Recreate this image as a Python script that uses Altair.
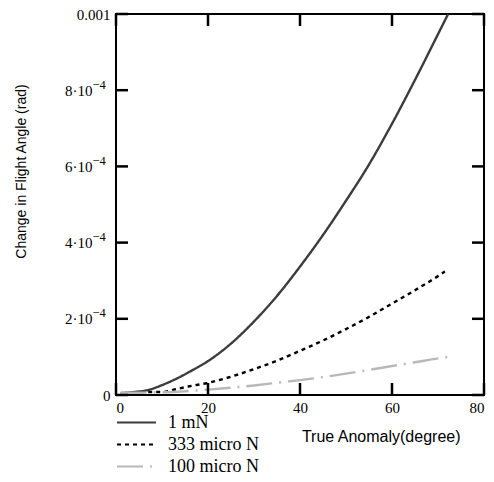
import altair as alt
import pandas as pd

series_names = ["1 mN", "333 micro N", "100 micro N"]

deg_1mn = [1, 4, 7, 10, 13, 16, 20, 25, 30, 35, 40, 45, 50, 55, 60, 65, 70, 72.2]
val_1mn = [5e-6, 8e-6, 1.3e-5, 2.6e-5, 4.2e-5, 6.1e-5, 8.9e-5, 1.35e-4, 1.93e-4,
           2.6e-4, 3.37e-4, 4.2e-4, 5.1e-4, 6.05e-4, 7.12e-4, 8.27e-4, 9.47e-4, 1.0e-3]

deg_333 = [7, 10, 13, 16, 20, 25, 30, 35, 40, 45, 50, 55, 60, 65, 70, 71.5]
val_333 = [8e-6, 8e-6, 1.5e-5, 2.3e-5, 3.2e-5, 4.8e-5, 6.8e-5, 9.0e-5, 1.16e-4,
           1.43e-4, 1.73e-4, 2.05e-4, 2.4e-4, 2.75e-4, 3.12e-4, 3.24e-4]

deg_100 = [1, 5, 10, 15, 20, 25, 30, 35, 40, 45, 50, 55, 60, 65, 70, 72.2]
val_100 = [6e-6, 6e-6, 7e-6, 1.0e-5, 1.4e-5, 1.9e-5, 2.5e-5, 3.2e-5, 3.9e-5,
           4.7e-5, 5.6e-5, 6.6e-5, 7.6e-5, 8.6e-5, 9.6e-5, 1.0e-4]

x_ticks = [0, 20, 40, 60, 80]
y_ticks = [0, 0.0002, 0.0004, 0.0006, 0.0008, 0.001]

rows = []
for name, xs, ys in [(series_names[0], deg_1mn, val_1mn),
                     (series_names[1], deg_333, val_333),
                     (series_names[2], deg_100, val_100)]:
    for i, (a, b) in enumerate(zip(xs, ys)):
        rows.append({"series": name, "deg": a, "val": b, "order": i})
df = pd.DataFrame(rows)
xt = pd.DataFrame({"t": x_ticks})
yt = pd.DataFrame({"t": y_ticks})

W, H, TICK = 368, 381, 12

xscale = alt.Scale(domain=[0, 80], nice=False, zero=False)
yscale = alt.Scale(domain=[0, 0.001], nice=False, zero=False)

serif = "Liberation Serif"
sans = "Liberation Sans"

legend_cfg = dict(
    orient="none", legendX=11.5, legendY=399.5, title=None,
    symbolType="M-3.9,0H3.9", symbolSize=100, symbolStrokeWidth=2,
    labelFont=serif, labelFontSize=18, labelColor="black", labelOffset=22.5,
    rowPadding=4, padding=0,
)

is_mid = "datum.value > 0 && datum.value < 0.00095"
ylabel_expr = ("datum.value == 0 ? '0' : (datum.value > 0.00095 ? '0.001' : "
               "round(datum.value * 10000) + '·10')")
ysup_expr = "(" + is_mid + ") ? '−4' : ''"

lines = alt.Chart(df).mark_line(strokeWidth=2.4, interpolate="monotone").encode(
    x=alt.X("deg:Q", scale=xscale,
            axis=alt.Axis(orient="bottom", values=x_ticks, grid=False, domain=False,
                          ticks=False, labelFont=serif, labelFontSize=15,
                          labelColor="black", labelPadding=5, labelFlush=True,
                          title="True Anomaly(degree)", titleFont=sans,
                          titleFontSize=16, titleFontWeight="normal", titleColor="black",
                          titleX=344, titleY=41, titleAlign="right",
                          titleBaseline="middle")),
    y=alt.Y("val:Q", scale=yscale,
            axis=alt.Axis(orient="left", values=y_ticks, grid=False, domain=False,
                          ticks=False, labelFont=serif, labelFontSize=15,
                          labelColor="black",
                          labelPadding={"condition": {"test": is_mid, "value": 24},
                                        "value": 6},
                          labelFlush=False, labelExpr=ylabel_expr,
                          title="Change in Flight Angle (rad)", titleFont=sans,
                          titleFontSize=14, titleFontWeight="normal", titleColor="black",
                          titleX=-95, titleY=157, titleAlign="center",
                          titleBaseline="middle", titleAngle=270)),
    color=alt.Color("series:N",
                    scale=alt.Scale(domain=series_names,
                                    range=["#3c3c3c", "#000000", "#b8b8b8"]),
                    legend=alt.Legend(**legend_cfg)),
    strokeDash=alt.StrokeDash("series:N",
                              scale=alt.Scale(domain=series_names,
                                              range=[[1, 0], [4, 4], [26, 7, 2, 7]]),
                              legend=alt.Legend(**legend_cfg)),
    order="order:Q",
)

sup = alt.Chart(df).mark_point(opacity=0).encode(
    x=alt.X("deg:Q", scale=xscale, axis=None),
    y=alt.Y("val:Q", scale=yscale,
            axis=alt.Axis(orient="left", values=y_ticks, grid=False, domain=False,
                          ticks=False, labelFont=serif, labelFontSize=12.5,
                          labelColor="black", labelPadding=24, labelAlign="left",
                          labelBaseline="alphabetic", labelOffset=-2,
                          labelFlush=False, labelExpr=ysup_expr, title=None)),
)

rule_style = dict(color="black", strokeWidth=2.5)
xt_bottom = alt.Chart(xt).mark_rule(**rule_style).encode(
    x=alt.X("t:Q", scale=xscale, axis=None), y=alt.value(H - TICK), y2=alt.value(H))
xt_top = alt.Chart(xt).mark_rule(**rule_style).encode(
    x=alt.X("t:Q", scale=xscale, axis=None), y=alt.value(0), y2=alt.value(TICK))
yt_left = alt.Chart(yt).mark_rule(**rule_style).encode(
    y=alt.Y("t:Q", scale=yscale, axis=None), x=alt.value(0), x2=alt.value(TICK))
yt_right = alt.Chart(yt).mark_rule(**rule_style).encode(
    y=alt.Y("t:Q", scale=yscale, axis=None), x=alt.value(W - TICK), x2=alt.value(W))

chart = alt.layer(lines, sup, xt_bottom, xt_top, yt_left, yt_right).resolve_axis(
    x="independent", y="independent"
).properties(
    width=W, height=H,
    autosize=alt.AutoSizeParams(type="none"),
    padding={"left": 108, "top": 6, "right": 2, "bottom": 79},
    background="white",
).configure_view(stroke="black", strokeWidth=2)

chart.save("out.html", embed_options={"renderer": "svg", "actions": False})
